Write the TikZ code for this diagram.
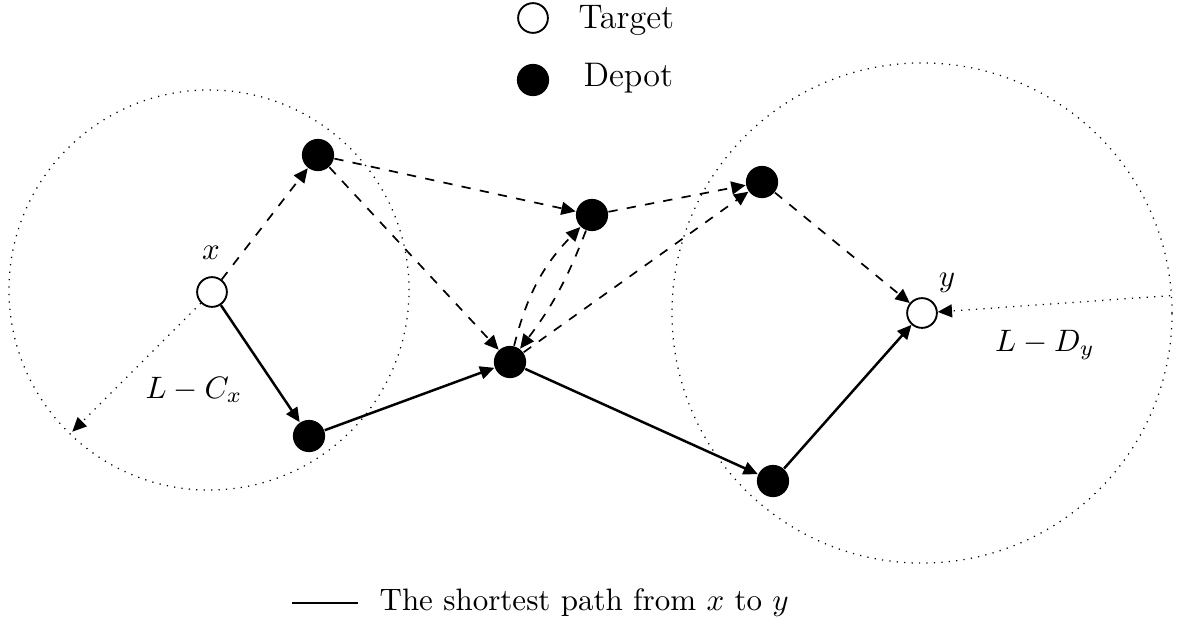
\documentclass[tikz,border=0pt]{standalone}
\usetikzlibrary{arrows.meta,calc}
\begin{document}
\begin{tikzpicture}[x=0.01134cm,y=-0.01134cm,
  target/.style={circle,draw,semithick,fill=white,minimum size=9.6pt,inner sep=0pt},
  depot/.style={circle,fill=black,minimum size=10.4pt,inner sep=0pt},
  tip/.style={-{Triangle[length=4.6pt,width=4.2pt]}},
  route/.style={tip,thick},
  detour/.style={tip,line width=0.55pt,dashed},
  reach/.style={thin,dotted},
  keytext/.style={anchor=west,inner sep=0pt,font=\fontsize{11}{13}\selectfont}]
\useasboundingbox (0,0) rectangle (1181,622);

% legend
\node[target] (lt) at (533,18) {};
\node[keytext] (ltt) at (578,20) {Target};
\node[depot] (ld) at (533,80) {};
\node[keytext] (ldt) at (583,78) {Depot};

% targets and depots
\node[target] (x) at (212,292) {};
\node (xl) at (211,253) {$x$};
\node[target] (y) at (922,313) {};
\node (yl) at (947,283) {$y$};
\node[depot] (A) at (318,155) {};
\node[depot] (B) at (309,436) {};
\node[depot] (C) at (510,362) {};
\node[depot] (D) at (592,215) {};
\node[depot] (E) at (762,182) {};
\node[depot] (F) at (773,481) {};

% reach circles
\coordinate (cx) at (209,290);
\draw[reach] (cx) circle [radius=2.268cm];
\draw[reach] (y.center) circle [radius=2.835cm];
\coordinate (rx) at ($(x.center)+(225:2.24cm)$);
\coordinate (ry) at ($(y.center)+(4:2.82cm)$);
\draw[reach,tip] (x) -- (rx);
\draw[reach,tip] (ry) -- (y);
\node (lcx) at (194,390) {$L-C_x$};
\node (ldy) at (1045,345) {$L-D_y$};

% shortest path
\draw[route] (x) -- (B);
\draw[route] (B) -- (C);
\draw[route] (C) -- (F);
\draw[route] (F) -- (y);

% other routes
\draw[detour] (x) -- (A);
\draw[detour] (A) -- (D);
\draw[detour] (A) -- (C);
\draw[detour] (C) to[bend left=15] (D);
\draw[detour] (D) to[bend left=8] (C);
\draw[detour] (D) -- (E);
\draw[detour] (C) -- (E);
\draw[detour] (E) -- (y);

% path legend
\coordinate (pa) at (292,603);
\coordinate (pb) at (358,603);
\draw[thick] (pa) -- (pb);
\node[anchor=west,inner sep=0pt] (pt) at (379,603) {The shortest path from $x$ to $y$};
\end{tikzpicture}
\end{document}
